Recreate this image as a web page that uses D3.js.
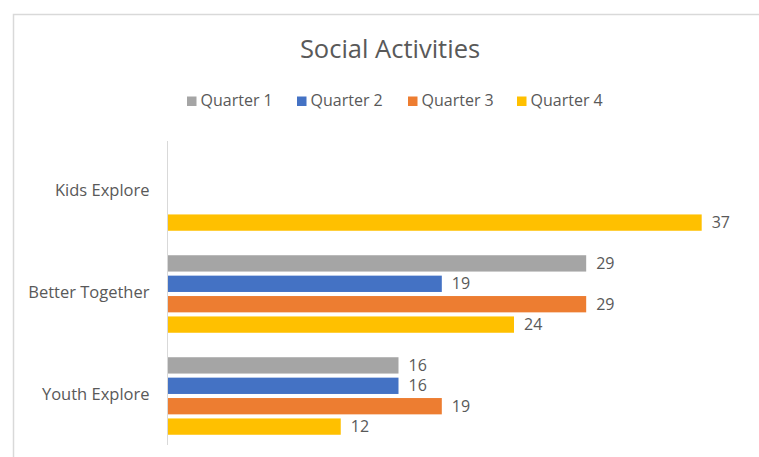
<!DOCTYPE html>
<html>
<head>
<meta charset="utf-8">
<script src="https://cdn.jsdelivr.net/npm/d3@7"></script>
<style>
  html, body { margin: 0; padding: 0; background: #fff; }
  svg { display: block; }
  text { font-family: "Open Sans", "Noto Sans", sans-serif; fill: #595959; }
</style>
</head>
<body>
<svg id="chart" width="759" height="457"></svg>
<script>
// Programs and the quarterly counts of social activities
const categories = ["Kids Explore", "Better Together", "Youth Explore"];
const seriesNames = ["Quarter 1", "Quarter 2", "Quarter 3", "Quarter 4"];
const quarter1 = [null, 29, 16];
const quarter2 = [null, 19, 16];
const quarter3 = [null, 29, 19];
const quarter4 = [37, 24, 12];
const seriesColors = ["#A5A5A5", "#4472C4", "#ED7D31", "#FFC000"];
const axisMax = 40;

const seriesValues = [quarter1, quarter2, quarter3, quarter4];

const svg = d3.select("#chart");
const W = 759, H = 457;

// Chart frame
svg.append("rect")
  .attr("x", 13.5).attr("y", 14.5)
  .attr("width", W).attr("height", H)
  .attr("fill", "#fff")
  .attr("stroke", "#d9d9d9")
  .attr("stroke-width", 1.5);

// Title
svg.append("text")
  .attr("x", 390).attr("y", 58)
  .attr("text-anchor", "middle")
  .style("font-size", "25.5px")
  .text("Social Activities");

// Legend
const legendX = [187, 297, 408, 517];
const legend = svg.append("g");
seriesNames.forEach((name, i) => {
  const g = legend.append("g").attr("transform", `translate(${legendX[i]},106)`);
  g.append("rect").attr("x", 0).attr("y", -9.5).attr("width", 9.5).attr("height", 9.5)
    .attr("fill", seriesColors[i]);
  g.append("text").attr("x", 13.5).attr("y", 0)
    .style("font-size", "16px")
    .text(name);
});

// Scales
const x = d3.scaleLinear().domain([0, axisMax]).range([167.5, 745]);
const y0 = d3.scaleBand().domain(categories).range([141, 447])
  .paddingInner(0.2).paddingOuter(0.1);
const y1 = d3.scaleBand().domain(seriesNames).range([0, y0.bandwidth()])
  .paddingInner(0.2).paddingOuter(0.1);

// Category axis
const yAxis = d3.axisLeft(y0).tickSize(0).tickPadding(18);
const ag = svg.append("g").attr("transform", `translate(${x(0)},0)`).call(yAxis);
ag.select(".domain").attr("stroke", "#d9d9d9").attr("stroke-width", 1)
  .attr("d", `M0,${y0.range()[0]}V${y0.range()[1] - 2}`);
ag.selectAll(".tick text")
  .style("font-size", "16.5px")
  .style("font-family", "\"Open Sans\", \"Noto Sans\", sans-serif")
  .attr("fill", "#595959")
  .attr("dy", "0.27em");

// Bars and value labels
const rows = [];
categories.forEach((cat, ci) => {
  seriesNames.forEach((s, si) => {
    const v = seriesValues[si][ci];
    if (v !== null && v !== undefined) rows.push({ cat, s, si, v });
  });
});

const plot = svg.append("g");
plot.selectAll("rect.bar").data(rows).join("rect")
  .attr("class", "bar")
  .attr("x", x(0) + 0.5)
  .attr("y", d => y0(d.cat) + y1(d.s))
  .attr("width", d => x(d.v) - x(0) - 0.5)
  .attr("height", y1.bandwidth())
  .attr("fill", d => seriesColors[d.si]);

plot.selectAll("text.val").data(rows).join("text")
  .attr("class", "val")
  .attr("x", d => x(d.v) + 10)
  .attr("y", d => y0(d.cat) + y1(d.s) + y1.bandwidth() / 2)
  .attr("dy", "0.35em")
  .style("font-size", "16px")
  .text(d => d.v);
</script>
</body>
</html>
